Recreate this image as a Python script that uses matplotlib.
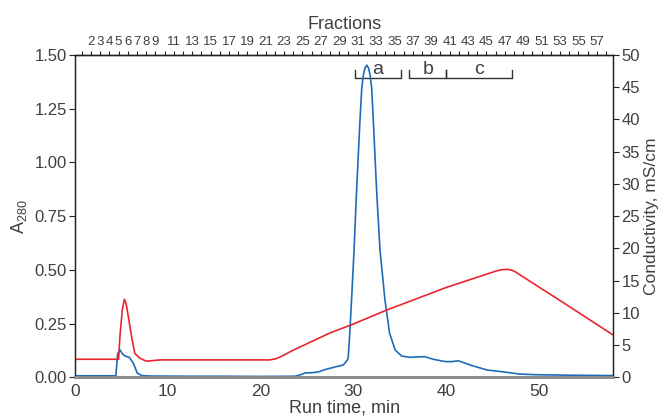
import matplotlib
matplotlib.use("Agg")
import matplotlib.pyplot as plt
import numpy as np

# A280 trace (blue), run time in min
blue_t = [0, 4.4, 4.6, 4.85, 5.1, 5.4, 5.85, 6.3, 6.7, 7.2, 8, 12, 16, 20, 23.7,
          24.3, 24.8, 25.7, 26.3, 26.8, 27.3, 28.2, 28.9, 29.35, 29.45, 29.6, 29.8,
          30.07, 30.3, 30.7, 30.9, 31.07, 31.25, 31.45, 31.62, 31.8, 31.97, 32.15,
          32.5, 32.87, 33.4, 33.9, 34.5, 35.2, 36.1, 37.0, 37.7, 38.6, 39.9, 40.6,
          41.3, 42.6, 44.4, 46.2, 47.95, 49.7, 53, 58]
blue_A = [0.007, 0.007, 0.11, 0.128, 0.11, 0.099, 0.093, 0.065, 0.02, 0.008, 0.006,
          0.005, 0.005, 0.004, 0.005, 0.012, 0.02, 0.022, 0.026, 0.034, 0.04, 0.05,
          0.057, 0.08, 0.096, 0.2, 0.36, 0.59, 0.83, 1.19, 1.345, 1.407, 1.44, 1.453,
          1.44, 1.407, 1.345, 1.19, 0.87, 0.59, 0.36, 0.205, 0.127, 0.099, 0.093,
          0.095, 0.096, 0.084, 0.073, 0.073, 0.077, 0.057, 0.034, 0.025, 0.015,
          0.012, 0.01, 0.008]

# conductivity trace (red), mS/cm
red_t = [0, 4.7, 4.85, 5.1, 5.32, 5.5, 5.75, 6.1, 6.45, 7.0, 7.7, 8.4, 9.2, 15,
         21.0, 21.7, 22.3, 23.5, 27.5, 30.0, 33.6, 40.05, 45.4, 46.0, 46.6, 47.1,
         47.4, 52.6, 58]
red_C = [2.8, 2.8, 6.5, 10.5, 12.1, 11.5, 9.4, 6.3, 3.7, 2.95, 2.5, 2.6, 2.7, 2.7,
         2.7, 2.9, 3.3, 4.2, 6.9, 8.27, 10.44, 13.96, 16.5, 16.7, 16.75, 16.6,
         16.4, 11.6, 6.55]

# fractions: number -> centre position (min)
frac_num = list(range(1, 59))
frac_pos = [1.72 + (n - 2) * 0.991 for n in frac_num]
frac_labels = [str(n) if (n <= 9 and n >= 2) or (n >= 11 and n % 2 == 1) else ""
               for n in frac_num]

# pooled fractions
pool_names = ["a", "b", "c"]
pool_start = [30.17, 36.0, 40.0]
pool_end = [35.13, 40.0, 47.06]

txt = "#404040"
plt.rcParams["font.family"] = ["Liberation Sans", "DejaVu Sans"]
plt.rcParams["text.color"] = txt
plt.rcParams["axes.labelcolor"] = txt
plt.rcParams["xtick.color"] = txt
plt.rcParams["ytick.color"] = txt

fig = plt.figure(figsize=(6.63, 4.19), dpi=100)
ax = fig.add_axes([0.1131, 0.0995, 0.925 - 0.1131, 0.8687 - 0.0995])
ax2 = ax.twinx()

ax.plot(blue_t, blue_A, color="#1f6bb8", lw=1.2, zorder=3)
ax2.plot(red_t, red_C, color="#e8262d", lw=1.2)

ax.set_xlim(0, 58)
ax.set_ylim(0, 1.5)
ax2.set_ylim(0, 50)
ax.set_xticks([0, 10, 20, 30, 40, 50])
ax.set_yticks(np.arange(0, 1.51, 0.25))
ax.set_yticklabels([f"{v:.2f}" for v in np.arange(0, 1.51, 0.25)])
ax2.set_yticks(range(0, 51, 5))

ax.tick_params(axis="x", length=0, labelsize=12.5, pad=5)
ax.tick_params(axis="y", length=4, width=0.8, labelsize=12, pad=2, color="#222")
ax2.tick_params(axis="y", length=4, width=0.8, labelsize=12, pad=2, color="#222")

for a in (ax, ax2):
    for s in ("left", "right", "top"):
        a.spines[s].set_linewidth(0.9)
        a.spines[s].set_color("#222")
    a.spines["bottom"].set_linewidth(2)
    a.spines["bottom"].set_color("#8c8c8c")

ax.set_xlabel("Run time, min", fontsize=13, labelpad=0)
ax.set_ylabel(r"A$_{\mathregular{280}}$", fontsize=13, labelpad=4)
ax2.set_ylabel("Conductivity, mS/cm", fontsize=12.5, labelpad=3)

# fractions axis on top
top = ax.secondary_xaxis("top")
top.set_xticks(frac_pos)
top.set_xticklabels(frac_labels)
top.tick_params(length=3, width=0.8, labelsize=9.5, pad=2, color="#222")
top.spines["top"].set_linewidth(0.9)
top.spines["top"].set_color("#222")
top.set_xlabel("Fractions", fontsize=13, labelpad=5)

# pool brackets
for name, x0, x1 in zip(pool_names, pool_start, pool_end):
    ax.plot([x0, x0, x1, x1], [1.43, 1.394, 1.394, 1.43], color="#333", lw=1,
            clip_on=False)
    ax.text((x0 + x1) / 2, 1.413, name, fontsize=14, ha="center", va="baseline")

fig.savefig("out.png", dpi=100)
